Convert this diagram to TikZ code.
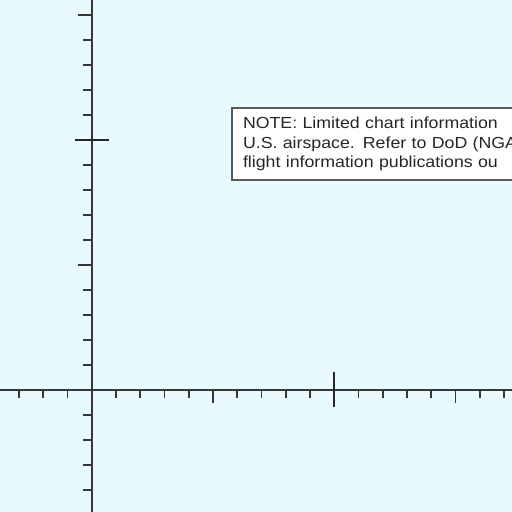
\documentclass[tikz,border=0pt]{standalone}
\usepackage{fontspec}
\newfontfamily\notefont[FakeStretch=1.11]{Liberation Sans}
\usetikzlibrary{positioning}
\definecolor{chartbg}{RGB}{232,250,253}
\definecolor{axisgray}{RGB}{55,55,55}
\definecolor{boxgray}{RGB}{90,90,90}
\tikzset{
  axisline/.style={draw=axisgray,line width=2pt},
  tickline/.style={draw=axisgray,line width=1.8pt},
  crossline/.style={draw=black!85,line width=2pt},
  notebox/.style={draw=boxgray,line width=2pt,fill=white,rectangle,anchor=north west,
    inner xsep=11pt,inner ysep=9pt,align=left,text width=300pt,text=black!85,
    font=\notefont\fontsize{16}{19.5}\selectfont}
}
\begin{document}
\begin{tikzpicture}[x=1pt,y=1pt]
\fill[chartbg] (0,0) rectangle (512,512);
\useasboundingbox (0,0) rectangle (512,512);
% ticks on the vertical line
\foreach \k in {0,...,19}
  \draw[tickline] (83,497-25*\k) -- (91.5,497-25*\k);
\draw[tickline] (78,497) -- (91.5,497);
\draw[tickline] (78,247) -- (91.5,247);
% ticks on the horizontal line
\foreach \k in {0,...,20}
  \draw[tickline] (19+24.25*\k,122) -- (19+24.25*\k,114);
\draw[tickline] (213,122) -- (213,109);
\draw[tickline] (455.5,122) -- (455.5,109);
% the two lines
\draw[axisline] (0,122) -- (512,122);
\draw[axisline] (91.5,0) -- (91.5,512);
% crosses
\draw[crossline] (75,372) -- (109,372);
\draw[crossline] (334.3,140) -- (334.3,105);
% note
\begin{scope}
\clip (0,0) rectangle (512,512);
\node[notebox] (note) at (231,405)
  {NOTE: Limited chart information\\U.S. airspace. Refer to DoD (NGA\\flight information publications ou};
\end{scope}
\end{tikzpicture}
\end{document}
